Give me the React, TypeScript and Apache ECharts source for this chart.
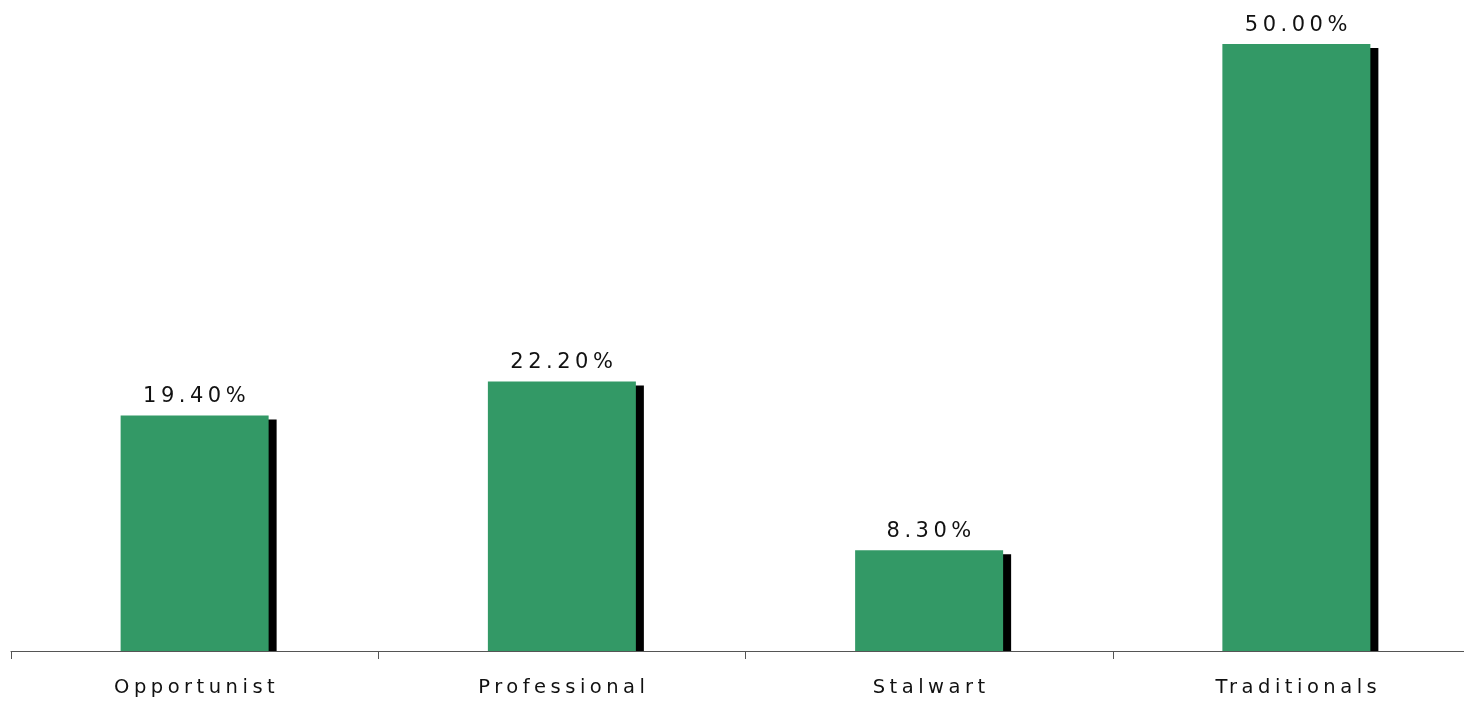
import React, { useEffect, useRef } from "react";
import * as echarts from "echarts";

const categories = ["Opportunist", "Professional", "Stalwart", "Traditionals"];
const values = [19.4, 22.2, 8.3, 50.0];

const BAR_W = 148;
const SHADOW_DX = 8;
const SHADOW_DY = 4;

export default function App() {
  const ref = useRef<HTMLDivElement>(null);
  useEffect(() => {
    if (!ref.current) return;
    const chart = echarts.init(ref.current, null, { renderer: "svg" });
    chart.setOption({
      animation: false,
      textStyle: { fontFamily: "DejaVu Sans" },
      grid: { left: 11, right: 0, top: 44, bottom: 52, containLabel: false },
      xAxis: {
        type: "category",
        data: categories,
        axisLine: { lineStyle: { color: "#555", width: 1 } },
        axisTick: { show: true, length: 8, lineStyle: { color: "#555" } },
        axisLabel: { color: "#111", fontSize: 19.5, margin: 25, fontFamily: "DejaVu Sans", padding: [0, 0, 0, 4] },
      },
      yAxis: {
        type: "value",
        min: 0,
        max: 50,
        show: false,
        splitLine: { show: false },
      },
      series: [
        {
          type: "custom",
          z: 1,
          data: values.map((v, i) => [i, v]),
          renderItem: (params: any, api: any) => {
            const top = api.coord([api.value(0), api.value(1)]);
            const base = api.coord([api.value(0), 0]);
            return {
              type: "rect",
              shape: {
                x: top[0] - BAR_W / 2 + SHADOW_DX,
                y: top[1] + SHADOW_DY,
                width: BAR_W,
                height: base[1] - top[1] - SHADOW_DY,
              },
              style: { fill: "#000" },
            };
          },
        },
        {
          type: "bar",
          z: 2,
          data: values,
          barWidth: BAR_W,
          itemStyle: { color: "#339966" },
          label: {
            show: true,
            position: "top",
            distance: 10,
            color: "#111",
            fontSize: 21,
            fontFamily: "DejaVu Sans",
            padding: [0, 0, 0, 4],
            formatter: (p: any) => p.value.toFixed(2) + "%",
          },
        },
      ],
    });
    return () => chart.dispose();
  }, []);
  return (
    <div style={{ position: "fixed", left: 0, top: 0, width: 1464, height: 703, overflow: "hidden" }}>
      <div ref={ref} style={{ width: 1480, height: 703, letterSpacing: "4.5px" }} />
    </div>
  );
}
